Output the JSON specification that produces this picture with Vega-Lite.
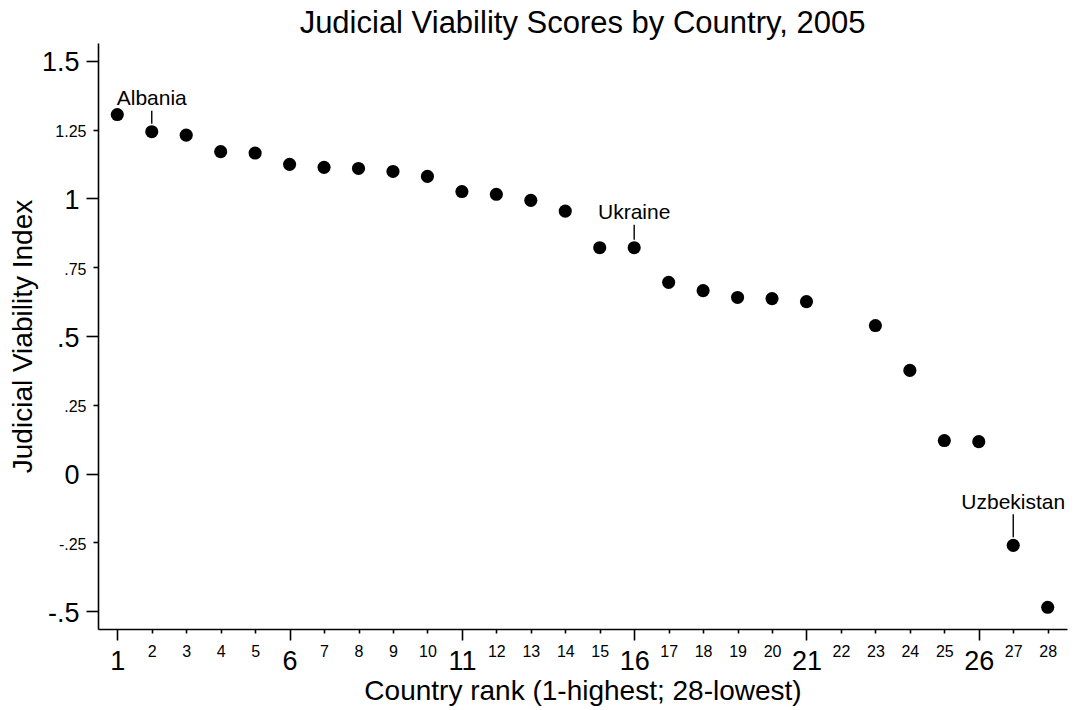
{
  "$schema": "https://vega.github.io/schema/vega-lite/v6.json",
  "width": 969,
  "height": 586,
  "autosize": {"type": "none"},
  "padding": {"left": 98, "top": 43, "right": 7, "bottom": 81},
  "background": "white",
  "title": {
    "text": "Judicial Viability Scores by Country, 2005",
    "font": "Liberation Sans",
    "fontSize": 31,
    "fontWeight": "normal",
    "color": "black",
    "anchor": "middle",
    "frame": "group",
    "baseline": "alphabetic",
    "offset": 10,
    "dy": 31
  },
  "config": {"view": {"stroke": null}, "font": "Liberation Sans"},
  "data": {
    "values": [
      {"rank": 1, "score": 1.305, "country": ""},
      {"rank": 2, "score": 1.2425, "country": "Albania"},
      {"rank": 3, "score": 1.230, "country": ""},
      {"rank": 4, "score": 1.170, "country": ""},
      {"rank": 5, "score": 1.165, "country": ""},
      {"rank": 6, "score": 1.124, "country": ""},
      {"rank": 7, "score": 1.113, "country": ""},
      {"rank": 8, "score": 1.109, "country": ""},
      {"rank": 9, "score": 1.098, "country": ""},
      {"rank": 10, "score": 1.080, "country": ""},
      {"rank": 11, "score": 1.025, "country": ""},
      {"rank": 12, "score": 1.015, "country": ""},
      {"rank": 13, "score": 0.993, "country": ""},
      {"rank": 14, "score": 0.954, "country": ""},
      {"rank": 15, "score": 0.821, "country": ""},
      {"rank": 16, "score": 0.821, "country": "Ukraine"},
      {"rank": 17, "score": 0.695, "country": ""},
      {"rank": 18, "score": 0.665, "country": ""},
      {"rank": 19, "score": 0.640, "country": ""},
      {"rank": 20, "score": 0.636, "country": ""},
      {"rank": 21, "score": 0.625, "country": ""},
      {"rank": 23, "score": 0.538, "country": ""},
      {"rank": 24, "score": 0.375, "country": ""},
      {"rank": 25, "score": 0.120, "country": ""},
      {"rank": 26, "score": 0.116, "country": ""},
      {"rank": 27, "score": -0.261, "country": "Uzbekistan"},
      {"rank": 28, "score": -0.486, "country": ""}
    ]
  },
  "encoding": {
    "x": {
      "field": "rank",
      "type": "quantitative",
      "scale": {"domain": [0.44, 28.56], "nice": false, "zero": false},
      "axis": {
        "title": "Country rank (1-highest; 28-lowest)",
        "values": [1,2,3,4,5,6,7,8,9,10,11,12,13,14,15,16,17,18,19,20,21,22,23,24,25,26,27,28],
        "format": "d",
        "grid": false,
        "domainColor": "black",
        "domainWidth": 1.6,
        "tickColor": "black",
        "tickWidth": 1.6,
        "tickSize": {"condition": {"test": "(datum.value - 1) % 5 == 0", "value": 11}, "value": 4},
        "labelFontSize": {"condition": {"test": "(datum.value - 1) % 5 == 0", "value": 27}, "value": 16},
        "labelPadding": {"condition": {"test": "(datum.value - 1) % 5 == 0", "value": 8}, "value": 10},
        "labelColor": "black",
        "labelFont": "Liberation Sans",
        "labelBaseline": "top",
        "labelAngle": 0,
        "labelOverlap": false,
        "labelFlush": false,
        "titleFont": "Liberation Sans",
        "titleFontSize": 28,
        "titleFontWeight": "normal",
        "titleColor": "black",
        "titleBaseline": "top",
        "titlePadding": 3
      }
    },
    "y": {
      "field": "score",
      "type": "quantitative",
      "scale": {"domain": [-0.565, 1.565], "nice": false, "zero": false},
      "axis": {
        "title": "Judicial Viability Index",
        "values": [-0.5, -0.25, 0, 0.25, 0.5, 0.75, 1, 1.25, 1.5],
        "labelExpr": "replace(toString(datum.value), '0.', '.')",
        "grid": false,
        "domainColor": "black",
        "domainWidth": 1.6,
        "tickColor": "black",
        "tickWidth": 1.6,
        "tickSize": {"condition": {"test": "datum.value % 0.5 == 0", "value": 12}, "value": 5},
        "labelFontSize": {"condition": {"test": "datum.value % 0.5 == 0", "value": 27}, "value": 16},
        "labelPadding": 7,
        "labelOffset": 2,
        "labelColor": "black",
        "labelFont": "Liberation Sans",
        "labelBaseline": "middle",
        "labelOverlap": false,
        "labelFlush": false,
        "titleFont": "Liberation Sans",
        "titleFontSize": 28,
        "titleFontWeight": "normal",
        "titleColor": "black",
        "titleBaseline": "alphabetic",
        "titlePadding": 10
      }
    }
  },
  "layer": [
    {
      "mark": {"type": "circle", "size": 172, "color": "black", "opacity": 1}
    },
    {
      "transform": [{"filter": "datum.country == 'Albania'"}],
      "mark": {"type": "rule", "color": "black", "strokeWidth": 1.4, "yOffset": -8, "y2Offset": -21},
      "encoding": {"y2": {"field": "score"}}
    },
    {
      "transform": [{"filter": "datum.country == 'Ukraine'"}],
      "mark": {"type": "rule", "color": "black", "strokeWidth": 1.4, "yOffset": -8, "y2Offset": -23},
      "encoding": {"y2": {"field": "score"}}
    },
    {
      "transform": [{"filter": "datum.country == 'Uzbekistan'"}],
      "mark": {"type": "rule", "color": "black", "strokeWidth": 1.4, "yOffset": -8, "y2Offset": -31},
      "encoding": {"y2": {"field": "score"}}
    },
    {
      "transform": [{"filter": "datum.country == 'Albania'"}],
      "mark": {"type": "text", "font": "Liberation Sans", "fontSize": 21, "color": "black", "align": "center", "baseline": "alphabetic", "yOffset": -27},
      "encoding": {"text": {"field": "country"}}
    },
    {
      "transform": [{"filter": "datum.country == 'Ukraine'"}],
      "mark": {"type": "text", "font": "Liberation Sans", "fontSize": 21, "color": "black", "align": "center", "baseline": "alphabetic", "yOffset": -29},
      "encoding": {"text": {"field": "country"}}
    },
    {
      "transform": [{"filter": "datum.country == 'Uzbekistan'"}],
      "mark": {"type": "text", "font": "Liberation Sans", "fontSize": 21, "color": "black", "align": "center", "baseline": "alphabetic", "yOffset": -36},
      "encoding": {"text": {"field": "country"}}
    }
  ]
}
